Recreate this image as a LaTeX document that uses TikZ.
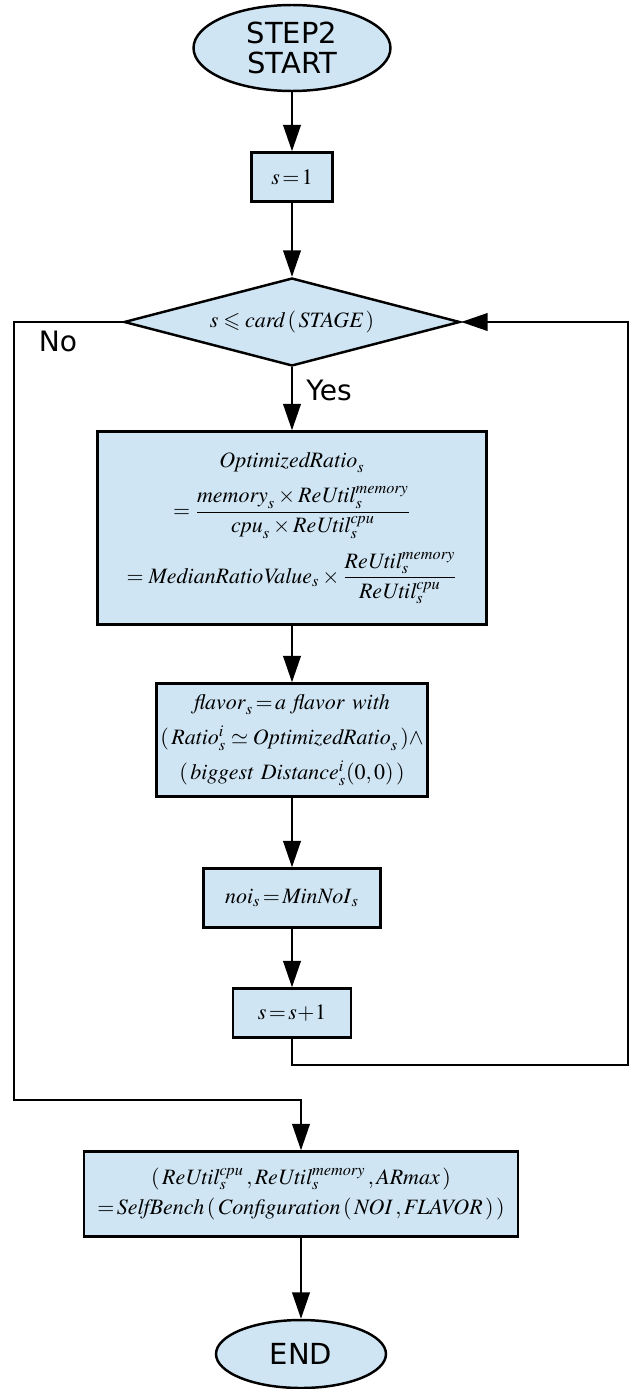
\documentclass[tikz,border=0pt,12pt]{standalone}
\usepackage{amsmath, amssymb}
\usepackage{mathptmx}
\usepackage[no-math]{fontspec}
\newfontfamily\labelfont{DejaVu Sans}
\SetMathAlphabet{\mathit}{normal}{OT1}{ptm}{m}{it}
\usepackage{xcolor}
\usepackage{tikz}
\usetikzlibrary{shapes.geometric,arrows.meta,positioning}

\definecolor{boxblue}{RGB}{207,229,243}
\newcommand*{\vn}[1]{\mathit{#1}}

\begin{document}
\begin{tikzpicture}[x=0.02cm, y=-0.02cm,
        flowline/.style={line width=1.1pt},
        flowarrow/.style={flowline, -{Triangle[length=15pt,width=10pt]}},
        procbox/.style={draw, rectangle, line width=1.4pt, fill=boxblue, inner sep=0pt, align=center, font=\fontsize{12.5}{15}\selectfont},
        termnode/.style={draw, ellipse, line width=1.4pt, fill=boxblue, inner sep=0pt, align=center, font=\labelfont\fontsize{16.5}{17.5}\selectfont},
        decnode/.style={draw, diamond, line width=1.4pt, fill=boxblue, inner sep=0pt, aspect=3.8, font=\fontsize{12.5}{15}\selectfont},
        lbl/.style={font=\labelfont\fontsize{16}{19}\selectfont}]
        \useasboundingbox (0,0) rectangle (630,1389);

        \node[termnode, minimum width=3.94cm, minimum height=1.72cm] (start) at (292,48) {STEP2\\START};
        \node[procbox, minimum width=1.62cm, minimum height=0.98cm] (init) at (292,177) {$s\!=\!1$};
        \node[decnode, minimum width=6.72cm, minimum height=1.76cm] (cond) at (292,322) {$s\leqslant \vn{card}\,(\,\vn{STAGE}\,)$};

        \node[procbox, minimum width=7.78cm, minimum height=3.86cm] (ratio) at (292,528) {%
            $\vn{OptimizedRatio}_s$\\[7pt]
            $=\dfrac{\vn{memory}_s\times \vn{ReUtil}_s^{\vn{memory}}}{\vn{cpu}_s\times\vn{ReUtil}_s^{\vn{cpu}}}$\\[7pt]
            $=\vn{MedianRatioValue}_s\times\dfrac{\vn{ReUtil}_s^{\vn{memory}}}{\vn{ReUtil}_s^{\vn{cpu}}}$};

        \node[procbox, minimum width=5.42cm, minimum height=2.26cm] (flavor) at (292,740) {%
            $\vn{flavor}_s\!=\!\vn{a\ flavor\ with}$\\[5pt]
            $(\,\vn{Ratio}_s^i\simeq \vn{OptimizedRatio}_s\,)\wedge$\\[5pt]
            $(\,\vn{biggest\ Distance}_s^i(0,0)\,)$};

        \node[procbox, minimum width=3.54cm, minimum height=1.18cm] (noi) at (292,898) {$\vn{noi}_s\!=\!\vn{MinNoI}_s$};
        \node[procbox, minimum width=2.36cm, minimum height=0.98cm] (incr) at (292,1013) {$s\!=\!s\!+\!1$};

        \node[procbox, minimum width=8.68cm, minimum height=1.70cm] (bench) at (301,1194) {%
            $(\,\vn{ReUtil}_s^{\vn{cpu}}\,,\vn{ReUtil}_s^{\vn{memory}}\,,\vn{ARmax}\,)$\\[2pt]
            $=\!\vn{SelfBench}\,(\,\vn{Configuration}\,(\,\vn{NOI}\,,\vn{FLAVOR}\,)\,)$};
        \node[termnode, minimum width=3.4cm, minimum height=1.36cm] (stop) at (301,1354) {END};

        \node[lbl] (no) at (58,341) {No};
        \node[lbl] (yes) at (329,390) {Yes};

        \coordinate (leftcorner) at (14,1100);
        \coordinate (backlow) at (628,1065);
        \coordinate (backhigh) at (628,322);

        \draw[flowarrow] (start) -- (init);
        \draw[flowarrow] (init) -- (cond);
        \draw[flowarrow] (cond) -- (ratio);
        \draw[flowarrow] (ratio) -- (flavor);
        \draw[flowarrow] (flavor) -- (noi);
        \draw[flowarrow] (noi) -- (incr);
        \draw[flowarrow] (incr.south) |- (backlow) -- (backhigh) -- (cond.east);
        \draw[flowarrow] (cond.west) -| (leftcorner) -| (bench.north);
        \draw[flowarrow] (bench) -- (stop);
    \end{tikzpicture}
\end{document}
